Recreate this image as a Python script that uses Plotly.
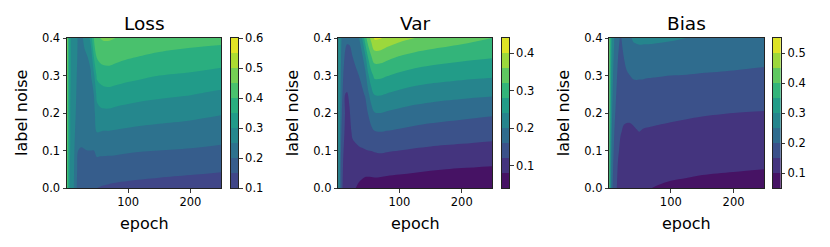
import numpy as np
import plotly.graph_objects as go

# ---------------- data ----------------
EPOCHS = [2, 4, 6, 8, 10, 13, 16, 20, 25, 30, 35, 40, 45, 50, 55, 60, 70, 80, 100, 125, 150, 200, 249]
NOISE = [0.0, 0.05, 0.1, 0.15, 0.2, 0.25, 0.3, 0.35, 0.4]

# one row per epoch, values at each noise level
LOSS = [
    [0.45, 0.45, 0.46, 0.46, 0.46, 0.47, 0.47, 0.48, 0.50],
    [0.37, 0.37, 0.37, 0.38, 0.38, 0.38, 0.38, 0.39, 0.39],
    [0.31, 0.31, 0.32, 0.32, 0.32, 0.33, 0.33, 0.33, 0.34],
    [0.28, 0.28, 0.285, 0.29, 0.29, 0.29, 0.30, 0.30, 0.30],
    [0.265, 0.27, 0.27, 0.275, 0.28, 0.28, 0.285, 0.29, 0.29],
    [0.25, 0.255, 0.26, 0.265, 0.27, 0.272, 0.275, 0.278, 0.28],
    [0.21, 0.215, 0.225, 0.24, 0.25, 0.255, 0.258, 0.26, 0.258],
    [0.185, 0.19, 0.2, 0.212, 0.222, 0.232, 0.238, 0.244, 0.247],
    [0.18, 0.186, 0.198, 0.21, 0.22, 0.23, 0.236, 0.241, 0.245],
    [0.178, 0.185, 0.199, 0.211, 0.222, 0.232, 0.24, 0.246, 0.255],
    [0.175, 0.184, 0.2, 0.213, 0.225, 0.235, 0.243, 0.25, 0.27],
    [0.17, 0.182, 0.2, 0.215, 0.228, 0.238, 0.245, 0.262, 0.32],
    [0.158, 0.18, 0.2, 0.218, 0.235, 0.25, 0.29, 0.35, 0.40],
    [0.15, 0.178, 0.212, 0.252, 0.28, 0.315, 0.36, 0.405, 0.44],
    [0.148, 0.178, 0.21, 0.25, 0.288, 0.325, 0.37, 0.415, 0.45],
    [0.146, 0.177, 0.21, 0.248, 0.29, 0.33, 0.375, 0.42, 0.455],
    [0.143, 0.175, 0.21, 0.248, 0.29, 0.332, 0.378, 0.42, 0.455],
    [0.141, 0.173, 0.209, 0.246, 0.285, 0.33, 0.372, 0.415, 0.45],
    [0.138, 0.17, 0.205, 0.242, 0.28, 0.322, 0.365, 0.405, 0.44],
    [0.135, 0.167, 0.202, 0.238, 0.274, 0.315, 0.357, 0.397, 0.435],
    [0.133, 0.164, 0.2, 0.235, 0.27, 0.31, 0.35, 0.39, 0.43],
    [0.128, 0.16, 0.196, 0.23, 0.263, 0.302, 0.343, 0.382, 0.42],
    [0.124, 0.155, 0.19, 0.222, 0.254, 0.29, 0.332, 0.375, 0.415],
]

VAR = [
    [0.26, 0.26, 0.262, 0.265, 0.268, 0.27, 0.272, 0.275, 0.28],
    [0.21, 0.212, 0.215, 0.218, 0.222, 0.226, 0.23, 0.234, 0.238],
    [0.15, 0.155, 0.165, 0.175, 0.185, 0.192, 0.2, 0.205, 0.21],
    [0.125, 0.13, 0.138, 0.146, 0.156, 0.166, 0.175, 0.184, 0.192],
    [0.112, 0.116, 0.122, 0.13, 0.14, 0.15, 0.16, 0.17, 0.18],
    [0.104, 0.107, 0.11, 0.114, 0.118, 0.12, 0.14, 0.155, 0.17],
    [0.098, 0.1, 0.104, 0.108, 0.113, 0.118, 0.135, 0.15, 0.165],
    [0.092, 0.097, 0.105, 0.112, 0.118, 0.124, 0.138, 0.152, 0.165],
    [0.086, 0.094, 0.112, 0.125, 0.132, 0.14, 0.15, 0.16, 0.17],
    [0.08, 0.091, 0.115, 0.128, 0.137, 0.145, 0.155, 0.166, 0.18],
    [0.076, 0.089, 0.117, 0.13, 0.14, 0.15, 0.16, 0.173, 0.197],
    [0.073, 0.088, 0.118, 0.132, 0.143, 0.155, 0.167, 0.19, 0.24],
    [0.07, 0.087, 0.119, 0.134, 0.147, 0.162, 0.185, 0.23, 0.3],
    [0.068, 0.088, 0.12, 0.14, 0.162, 0.192, 0.235, 0.285, 0.345],
    [0.066, 0.09, 0.121, 0.15, 0.182, 0.222, 0.268, 0.318, 0.372],
    [0.065, 0.092, 0.123, 0.158, 0.198, 0.242, 0.288, 0.338, 0.405],
    [0.063, 0.092, 0.125, 0.16, 0.2, 0.243, 0.288, 0.337, 0.403],
    [0.062, 0.09, 0.123, 0.158, 0.196, 0.238, 0.282, 0.33, 0.388],
    [0.06, 0.088, 0.12, 0.154, 0.19, 0.23, 0.272, 0.318, 0.372],
    [0.058, 0.085, 0.116, 0.149, 0.183, 0.222, 0.263, 0.307, 0.36],
    [0.057, 0.082, 0.113, 0.145, 0.178, 0.217, 0.257, 0.3, 0.35],
    [0.056, 0.078, 0.109, 0.14, 0.171, 0.21, 0.25, 0.29, 0.335],
    [0.055, 0.075, 0.105, 0.135, 0.165, 0.205, 0.245, 0.283, 0.32],
]

BIAS = [
    [0.46, 0.46, 0.465, 0.47, 0.47, 0.475, 0.475, 0.48, 0.48],
    [0.27, 0.28, 0.29, 0.3, 0.31, 0.32, 0.33, 0.34, 0.35],
    [0.22, 0.23, 0.24, 0.25, 0.26, 0.27, 0.28, 0.29, 0.3],
    [0.19, 0.2, 0.21, 0.22, 0.23, 0.24, 0.25, 0.26, 0.27],
    [0.17, 0.18, 0.19, 0.2, 0.21, 0.22, 0.23, 0.24, 0.25],
    [0.155, 0.162, 0.17, 0.18, 0.19, 0.2, 0.21, 0.22, 0.23],
    [0.14, 0.145, 0.155, 0.165, 0.175, 0.185, 0.19, 0.2, 0.21],
    [0.127, 0.133, 0.142, 0.152, 0.162, 0.172, 0.18, 0.188, 0.195],
    [0.12, 0.125, 0.135, 0.146, 0.157, 0.17, 0.185, 0.2, 0.215],
    [0.115, 0.12, 0.13, 0.144, 0.157, 0.175, 0.195, 0.215, 0.235],
    [0.112, 0.118, 0.128, 0.143, 0.158, 0.178, 0.2, 0.225, 0.245],
    [0.11, 0.117, 0.128, 0.145, 0.16, 0.18, 0.205, 0.23, 0.255],
    [0.108, 0.116, 0.13, 0.148, 0.162, 0.181, 0.206, 0.232, 0.258],
    [0.106, 0.115, 0.13, 0.15, 0.163, 0.181, 0.205, 0.232, 0.26],
    [0.104, 0.114, 0.128, 0.148, 0.162, 0.181, 0.205, 0.231, 0.26],
    [0.102, 0.113, 0.127, 0.147, 0.161, 0.18, 0.204, 0.23, 0.26],
    [0.1, 0.112, 0.125, 0.146, 0.16, 0.179, 0.203, 0.229, 0.26],
    [0.098, 0.111, 0.124, 0.145, 0.159, 0.178, 0.202, 0.228, 0.258],
    [0.095, 0.108, 0.122, 0.143, 0.157, 0.177, 0.2, 0.226, 0.255],
    [0.093, 0.106, 0.12, 0.14, 0.155, 0.175, 0.199, 0.223, 0.25],
    [0.091, 0.104, 0.119, 0.137, 0.153, 0.173, 0.197, 0.22, 0.247],
    [0.088, 0.102, 0.117, 0.134, 0.15, 0.17, 0.194, 0.216, 0.24],
    [0.085, 0.1, 0.115, 0.131, 0.148, 0.167, 0.19, 0.212, 0.235],
]

TITLES = ["Loss", "Var", "Bias"]
LEVELS = [(0.1, 0.6, 0.05), (0.04, 0.44, 0.04), (0.05, 0.55, 0.05)]
CB_TICKS = [[0.1, 0.2, 0.3, 0.4, 0.5, 0.6], [0.1, 0.2, 0.3, 0.4], [0.1, 0.2, 0.3, 0.4, 0.5]]
NORM_RANGE = [(0.0, 0.6), (0.04, 0.44), (0.05, 0.55)]  # colour normalisation per panel
X_TICKS = [100, 200]
Y_TICKS = [0.0, 0.1, 0.2, 0.3, 0.4]

# ---------------- styling / geometry ----------------
W, H = 830, 247
PLOT_X = [(67, 221), (338.3, 492.3), (609.3, 764.3)]
CB_X = [(231, 238.3), (502, 509.3), (773, 780.7)]
TOP, BOT = 38, 188
FONT = "DejaVu Sans"

VIR = ['#440154', '#482475', '#414487', '#355f8d', '#2a788e', '#21918c',
       '#22a884', '#44bf70', '#7ad151', '#bddf26', '#fde725']


def hex2rgb(h):
    return np.array([int(h[i:i + 2], 16) for i in (1, 3, 5)], float)


def viridis(t):
    t = min(max(t, 0.0), 1.0) * (len(VIR) - 1)
    i = min(int(t), len(VIR) - 2)
    f = t - i
    c = (1 - f) * hex2rgb(VIR[i]) + f * hex2rgb(VIR[i + 1])
    return '#%02x%02x%02x' % tuple(int(round(v)) for v in c)


def px_x(v):
    return v / W


def px_y(v):
    return (H - v) / H


fig = go.Figure()
ydom = [px_y(BOT), px_y(TOP)]
annotations = []

for i, (data, title) in enumerate(zip([LOSS, VAR, BIAS], TITLES)):
    start, end, size = LEVELS[i]
    nb = int(round((end - start) / size))
    vmin, vmax = NORM_RANGE[i]
    band_cols = [viridis((start + (k + 0.5) * size - vmin) / (vmax - vmin)) for k in range(nb)]
    nc = nb + 1
    cols = [band_cols[0]] + band_cols + [band_cols[-1]]
    cscale = [[k / nc, c] for k, c in enumerate(cols)]

    z = np.array(data).T
    ax = i + 1
    xa = 'x' if ax == 1 else f'x{ax}'
    ya = 'y' if ax == 1 else f'y{ax}'
    fig.add_trace(go.Contour(
        x=EPOCHS, y=NOISE, z=z, xaxis=xa, yaxis=ya,
        autocontour=False,
        contours=dict(start=start, end=end, size=size, coloring='fill', showlines=False),
        line=dict(width=0), colorscale=cscale, showscale=False, hoverinfo='skip'))

    # colorbar drawn as its own heatmap axis
    cb = i + 4
    levels = [start + k * size for k in range(nb + 1)]
    fig.add_trace(go.Heatmap(
        x=[0, 1], y=levels, z=[[k] for k in range(nb)],
        colorscale=[[k / (nb - 1), c] for k, c in enumerate(band_cols)],
        zmin=0, zmax=nb - 1, showscale=False, hoverinfo='skip',
        xaxis=f'x{cb}', yaxis=f'y{cb}'))

    x0, x1 = PLOT_X[i]
    axis_common = dict(showline=True, mirror=True, linecolor='#222', linewidth=1,
                       ticks='outside', ticklen=3.5, tickwidth=0.9, tickcolor='#222',
                       showgrid=False, zeroline=False, automargin=False,
                       tickfont=dict(family=FONT, size=11.5, color='black'))
    fig.update_layout(**{
        ('xaxis' if ax == 1 else f'xaxis{ax}'): dict(
            domain=[px_x(x0), px_x(x1)], range=[EPOCHS[0], EPOCHS[-1]],
            tickvals=X_TICKS, anchor=ya, **axis_common),
        ('yaxis' if ax == 1 else f'yaxis{ax}'): dict(
            domain=ydom, range=[NOISE[0], NOISE[-1]], tickvals=Y_TICKS,
            tickformat='.1f', anchor=xa, **axis_common),
        f'xaxis{cb}': dict(domain=[px_x(CB_X[i][0]), px_x(CB_X[i][1])], range=[0, 1],
                           showline=True, mirror=True, linecolor='#222', linewidth=1,
                           showticklabels=False, ticks='', showgrid=False, zeroline=False,
                           automargin=False, anchor=f'y{cb}'),
        f'yaxis{cb}': dict(domain=ydom, range=[start, end], tickvals=CB_TICKS[i],
                           tickformat='.1f', side='right', anchor=f'x{cb}', **axis_common),
    })

    cx = (x0 + x1) / 2
    annotations.append(dict(text=title, x=px_x(cx), y=px_y(23.5), xref='paper', yref='paper',
                            showarrow=False, xanchor='center', yanchor='middle',
                            font=dict(family=FONT, size=18.5, color='black')))
    annotations.append(dict(text='epoch', x=px_x(cx), y=px_y(223), xref='paper', yref='paper',
                            showarrow=False, xanchor='center', yanchor='middle',
                            font=dict(family=FONT, size=16, color='black')))
    annotations.append(dict(text='label noise', x=px_x(x0 - 46), y=px_y((TOP + BOT) / 2),
                            xref='paper', yref='paper', textangle=-90,
                            showarrow=False, xanchor='center', yanchor='middle',
                            font=dict(family=FONT, size=16, color='black')))

fig.update_layout(width=W, height=H, margin=dict(l=0, r=0, t=0, b=0, pad=0, autoexpand=False),
                  paper_bgcolor='white', plot_bgcolor='white',
                  annotations=annotations, showlegend=False)

fig.write_html("out.html", config={"displayModeBar": False, "staticPlot": True},
               post_script="document.body.style.margin='0';document.body.style.overflow='hidden';")
